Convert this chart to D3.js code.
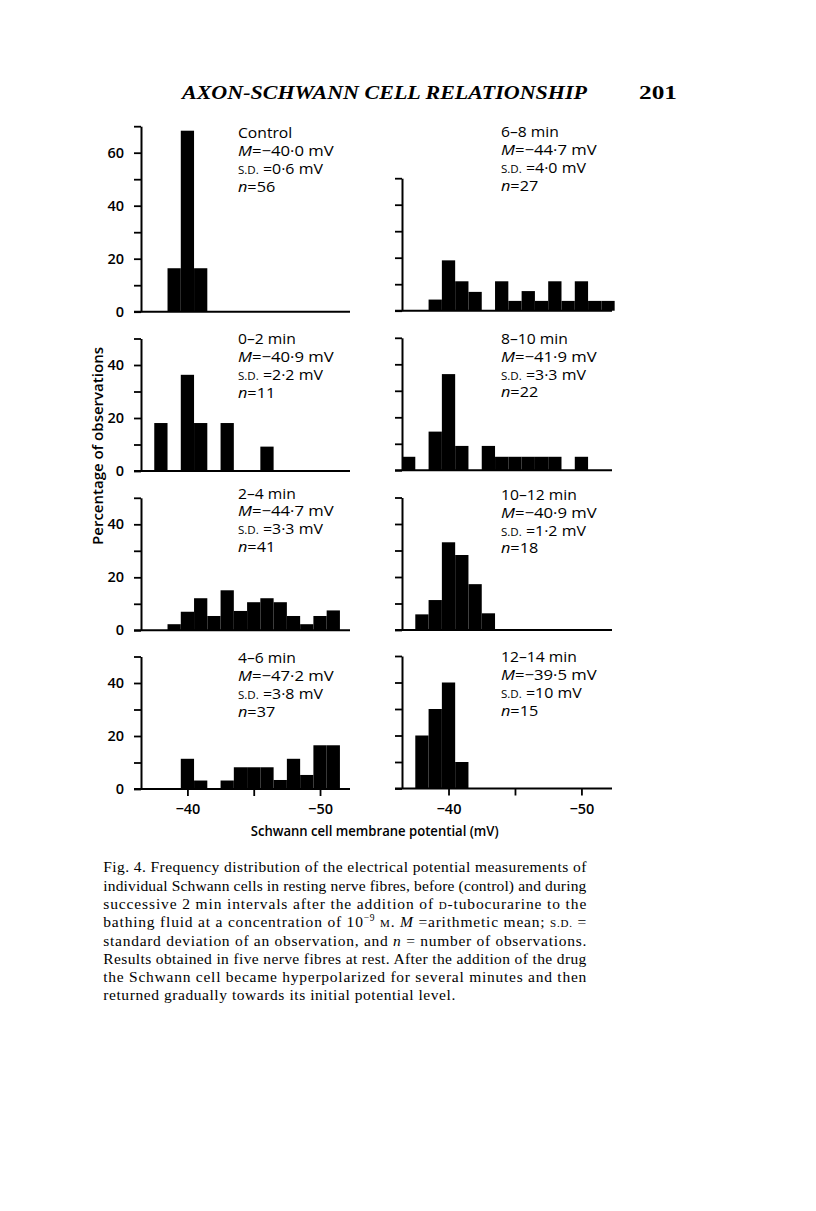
<!DOCTYPE html>
<html>
<head>
<meta charset="utf-8">
<script src="https://cdn.jsdelivr.net/npm/d3@7/dist/d3.min.js"></script>
<style>
  html, body { margin: 0; padding: 0; background: #fff; }
  svg { display: block; }
  .sans { font-family: "Open Sans", "Lato", sans-serif; }
  .serif { font-family: "Liberation Serif", "DejaVu Serif", serif; }
</style>
</head>
<body>
<svg id="chart" width="816" height="1211"></svg>
<script>
// ---------------- DATA ----------------
const panelNames = ["Control", "6–8 min", "0–2 min", "8–10 min", "2–4 min", "10–12 min", "4–6 min", "12–14 min"];
const panelMeans = ["−40·0", "−44·7", "−40·9", "−41·9", "−44·7", "−40·9", "−47·2", "−39·5"];
const panelSDs = ["0·6", "4·0", "2·2", "3·3", "3·3", "1·2", "3·8", "10"];
const panelNs = ["56", "27", "11", "22", "41", "18", "37", "15"];
// centre (mV) of the first 1 mV bin of each panel
const firstBin = [-39, -39, -38, -37, -39, -38, -40, -38];
// percentage of observations in consecutive 1 mV bins
const pctControl = [16.4, 68.3, 16.4];
const pct6to8 = [4.2, 19.0, 11.1, 7.1, 0, 11.1, 3.7, 7.4, 3.7, 11.1, 3.7, 11.1, 3.7, 3.7];
const pct0to2 = [18.1, 0, 36.3, 18.1, 0, 18.1, 0, 0, 9.2];
const pct8to10 = [5.1, 0, 14.6, 36.3, 9.2, 0, 9.2, 5.1, 5.1, 5.1, 5.1, 5.1, 0, 5.1];
const pct2to4 = [2.3, 7.0, 12.1, 5.4, 15.1, 7.3, 10.6, 12.1, 10.6, 5.4, 2.3, 5.4, 7.5];
const pct10to12 = [5.9, 11.3, 33.1, 28.3, 17.3, 6.3];
const pct4to6 = [11.4, 3.2, 0, 3.2, 8.2, 8.2, 8.2, 3.4, 11.4, 5.3, 16.5, 16.5];
const pct12to14 = [20, 30, 40, 10];
const panelPcts = [pctControl, pct6to8, pct0to2, pct8to10, pct2to4, pct10to12, pct4to6, pct12to14];
const panelYMax = [70, 50, 50, 50, 50, 50, 50, 50];
const yTickLabels = [0, 20, 40, 60];
const xTickValues = [-40, -45, -50];
const xTickLabels = ["−40", "", "−50"];
const yTitle = "Percentage of observations";
const xTitle = "Schwann cell membrane potential (mV)";
const headTitle = "AXON-SCHWANN CELL RELATIONSHIP";
const pageNumber = "201";
const captionLines = [
  [["Fig. 4. Frequency distribution of the electrical potential measurements of"]],
  [["individual Schwann cells in resting nerve fibres, before (control) and during"]],
  [["successive 2 min intervals after the addition of "], ["D", "sc"], ["-tubocurarine to the"]],
  [["bathing fluid at a concentration of 10"], ["−9", "sup"], [" "], ["M", "sc"], [". "], ["M", "it"], ["  =arithmetic mean; "], ["S.D.", "sc"], [" ="]],
  [["standard deviation of an observation, and "], ["n", "it"], [" = number of observations."]],
  [["Results obtained in five nerve fibres at rest. After the addition of the drug"]],
  [["the Schwann cell became hyperpolarized for several minutes and then"]],
  [["returned gradually towards its initial potential level."]]
];

// ---------------- LAYOUT ----------------
const svg = d3.select("#chart");
const unit = 2.65;               // px per 1 %
const cols = [
  { axisX: 141, xDomain: [-36.5, -52.26], xRange: [141, 350], annX: 238 },
  { axisX: 402, xDomain: [-36.5, -52.3], xRange: [402, 612], annX: 501 }
];
const yZeros = [311.7, 310.7, 471, 470.3, 630.3, 630, 789, 788.5];
const annBase = [138.3, 137.3, 344.3, 344, 498.6, 500, 663.3, 662.3];
const lineGap = 17.8;
const widen = [1.08, 1.15, 1.1, 1.12];

function stretch(sel, f) {
  const w = sel.node().getComputedTextLength();
  sel.attr("textLength", w * f).attr("lengthAdjust", "spacingAndGlyphs");
}

panelNames.forEach((name, i) => {
  const col = cols[i % 2];
  const row = Math.floor(i / 2);
  const isLeft = i % 2 === 0;
  const y0 = yZeros[i];
  const ymax = panelYMax[i];
  const x = d3.scaleLinear().domain(col.xDomain).range(col.xRange);
  const y = d3.scaleLinear().domain([0, ymax]).range([y0, y0 - ymax * unit]);
  const g = svg.append("g");

  // bars
  const bins = panelPcts[i].map((v, k) => ({ c: firstBin[i] - k, v }));
  g.selectAll("rect.bar").data(bins.filter(d => d.v > 0)).join("rect")
    .attr("class", "bar")
    .attr("x", d => x(d.c + 0.5))
    .attr("width", d => x(d.c - 0.5) - x(d.c + 0.5))
    .attr("y", d => y(d.v))
    .attr("height", d => y(0) - y(d.v))
    .attr("fill", "#000");

  // y axis
  const yAxis = d3.axisLeft(y)
    .tickValues(d3.range(0, ymax + 1, 10))
    .tickSize(7)
    .tickSizeOuter(0)
    .tickPadding(10)
    .tickFormat(d => (isLeft && yTickLabels.includes(d)) ? String(d) : "");
  const ya = g.append("g").attr("transform", `translate(${col.axisX},0)`).call(yAxis);
  ya.select(".domain").attr("stroke", "#000").attr("stroke-width", 2);
  ya.selectAll(".tick line").attr("stroke", "#000").attr("stroke-width", 1.8);
  ya.selectAll(".tick text").attr("font-size", 14.5).attr("fill", "#000")
    .attr("font-weight", 600)
    .style("font-family", '"Open Sans", sans-serif');

  // x baseline
  g.append("line")
    .attr("x1", col.axisX - 7).attr("x2", col.xRange[1])
    .attr("y1", y0).attr("y2", y0)
    .attr("stroke", "#000").attr("stroke-width", 2);

  if (row === 3) {
    const xAxis = d3.axisBottom(x)
      .tickValues(xTickValues)
      .tickSize(7)
      .tickSizeOuter(0)
      .tickPadding(8)
      .tickFormat((d, k) => xTickLabels[k]);
    const xa = g.append("g").attr("transform", `translate(0,${y0})`).call(xAxis);
    xa.select(".domain").remove();
    xa.selectAll(".tick line").attr("stroke", "#000").attr("stroke-width", 1.8);
    xa.selectAll(".tick text").attr("font-size", 14.5).attr("fill", "#000")
      .attr("font-weight", 600)
      .style("font-family", '"Open Sans", sans-serif');
  }

  // annotation
  const a = g.append("g").attr("class", "sans").attr("font-size", 14.5).attr("fill", "#000");
  const bx = col.annX, by = annBase[i];
  const t1 = a.append("text").attr("x", bx).attr("y", by).text(name);
  const t2 = a.append("text").attr("x", bx).attr("y", by + lineGap);
  t2.append("tspan").attr("font-style", "italic").text("M");
  t2.append("tspan").text("=" + panelMeans[i] + " mV");
  const t3 = a.append("text").attr("x", bx).attr("y", by + 2 * lineGap);
  t3.append("tspan").attr("font-size", 10.5).text("S.D.");
  t3.append("tspan").text(" =" + panelSDs[i] + " mV");
  const t4 = a.append("text").attr("x", bx).attr("y", by + 3 * lineGap);
  t4.append("tspan").attr("font-style", "italic").text("n");
  t4.append("tspan").text("=" + panelNs[i]);
  [t1, t2, t3, t4].forEach((t, k) => stretch(t, widen[k]));
});

// axis titles
svg.append("text")
  .attr("class", "sans")
  .attr("transform", "translate(103,446) rotate(-90)")
  .attr("text-anchor", "middle")
  .attr("font-size", 14)
  .attr("font-weight", 600)
  .attr("textLength", 198)
  .attr("lengthAdjust", "spacingAndGlyphs")
  .text(yTitle);

svg.append("text")
  .attr("class", "sans")
  .attr("x", 250.7).attr("y", 836)
  .attr("font-size", 14)
  .attr("font-weight", 600)
  .attr("textLength", 248)
  .attr("lengthAdjust", "spacingAndGlyphs")
  .text(xTitle);

// header
svg.append("text")
  .attr("class", "serif")
  .attr("x", 182).attr("y", 98.7)
  .attr("font-size", 19.5)
  .attr("font-style", "italic")
  .attr("font-weight", 600)
  .attr("textLength", 405)
  .attr("lengthAdjust", "spacingAndGlyphs")
  .text(headTitle);
svg.append("text")
  .attr("class", "serif")
  .attr("x", 639).attr("y", 98.7)
  .attr("font-size", 19.5)
  .attr("font-weight", 700)
  .attr("textLength", 38)
  .attr("lengthAdjust", "spacingAndGlyphs")
  .text(pageNumber);

// caption
const capX = 103.3, capW = 483, capY0 = 872.3, capGap = 18.3;
captionLines.forEach((parts, li) => {
  const t = svg.append("text")
    .attr("class", "serif")
    .attr("x", capX).attr("y", capY0 + li * capGap)
    .attr("font-size", 15.5)
    .attr("fill", "#000");
  parts.forEach(([txt, style]) => {
    const s = t.append("tspan").text(txt);
    if (style === "sc") s.attr("font-size", 11);
    if (style === "it") s.attr("font-style", "italic");
    if (style === "sup") s.attr("font-size", 9.5).attr("dy", -6);
    if (style !== "sup" && li === 3 && txt === " ") s.attr("dy", 6);
  });
  if (li < captionLines.length - 1) {
    t.attr("textLength", capW).attr("lengthAdjust", "spacing");
  } else {
    t.attr("textLength", 352).attr("lengthAdjust", "spacing");
  }
});
</script>
</body>
</html>
